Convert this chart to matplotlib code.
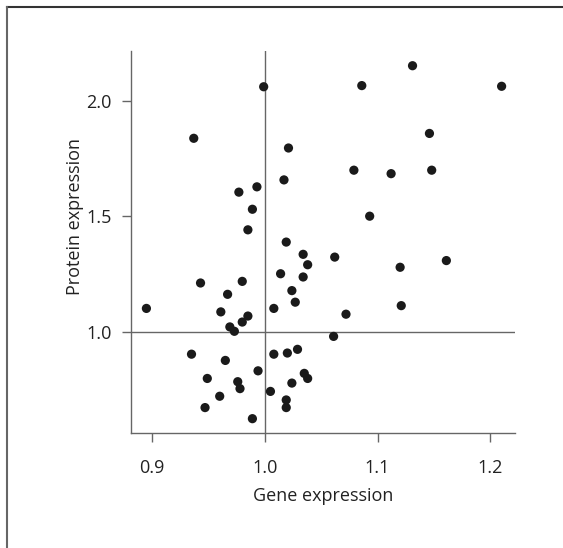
import numpy as np
import matplotlib.pyplot as plt
from matplotlib.lines import Line2D

plt.rcParams['font.family'] = ['Open Sans', 'DejaVu Sans']

# Gene vs protein expression
gene = [0.895, 0.937, 0.943, 0.935, 0.949, 0.947, 0.960, 0.961, 0.967, 0.969,
        0.973, 0.965, 0.976, 0.978, 0.977, 0.980, 0.980, 0.985, 0.985, 0.989,
        0.993, 0.989, 0.994, 0.999, 1.005, 1.008, 1.008, 1.014, 1.017, 1.019,
        1.021, 1.024, 1.027, 1.020, 1.029, 1.024, 1.019, 1.019, 1.034, 1.038,
        1.034, 1.035, 1.038, 1.062, 1.061, 1.072, 1.079, 1.086, 1.093, 1.112,
        1.120, 1.121, 1.131, 1.146, 1.148, 1.161, 1.210]
protein = [1.101, 1.837, 1.211, 0.903, 0.798, 0.672, 0.721, 1.086, 1.162, 1.021,
           1.002, 0.876, 0.784, 0.754, 1.604, 1.218, 1.042, 1.068, 1.441, 1.530,
           1.627, 0.624, 0.831, 2.060, 0.742, 1.101, 0.903, 1.251, 1.657, 1.388,
           1.795, 1.178, 1.128, 0.908, 0.924, 0.778, 0.705, 0.672, 1.335, 1.290,
           1.237, 0.820, 0.798, 1.323, 0.980, 1.076, 1.699, 2.065, 1.500, 1.684,
           1.279, 1.113, 2.151, 1.858, 1.699, 1.308, 2.062]

x_ticks = [0.9, 1.0, 1.1, 1.2]
y_ticks = [1.0, 1.5, 2.0]

fig = plt.figure(figsize=(5.63, 5.48), dpi=100)
ax = fig.add_axes([0.232, 0.209, 0.683, 0.6985])

gray = '#666666'
txt = '#222222'

ax.axvline(1.0, color=gray, lw=1.0, zorder=1)
ax.axhline(1.0, color=gray, lw=1.0, zorder=1)
ax.scatter(gene, protein, s=44, color='#1a1a1a', edgecolors='none', zorder=3)

ax.set_xlim(0.881, 1.222)
ax.set_ylim(0.56, 2.216)
ax.set_xticks(x_ticks)
ax.set_xticklabels(['%.1f' % v for v in x_ticks])
ax.set_yticks(y_ticks)
ax.set_yticklabels(['%.1f' % v for v in y_ticks])

for s in ['top', 'right']:
    ax.spines[s].set_visible(False)
for s in ['left', 'bottom']:
    ax.spines[s].set_color(gray)
    ax.spines[s].set_linewidth(1.0)

ax.tick_params(axis='both', direction='out', length=6.5, width=1.0,
               color=gray, labelsize=13, labelcolor=txt)
ax.tick_params(axis='x', pad=12)
ax.tick_params(axis='y', pad=7)

ax.set_xlabel('Gene expression', fontsize=13, color=txt)
ax.set_ylabel('Protein expression', fontsize=13, color=txt)
ax.xaxis.set_label_coords(0.5, -0.14)
ax.yaxis.set_label_coords(-0.121, 0.568)

# frame lines (only top and left visible in the reference)
fig.add_artist(Line2D([7 / 563, 1], [1 - 7 / 548, 1 - 7 / 548],
                      transform=fig.transFigure, color='#333333', lw=1.5))
fig.add_artist(Line2D([7 / 563, 7 / 563], [0, 1 - 7 / 548],
                      transform=fig.transFigure, color=gray, lw=1.5))

fig.savefig('out.png', dpi=100)
